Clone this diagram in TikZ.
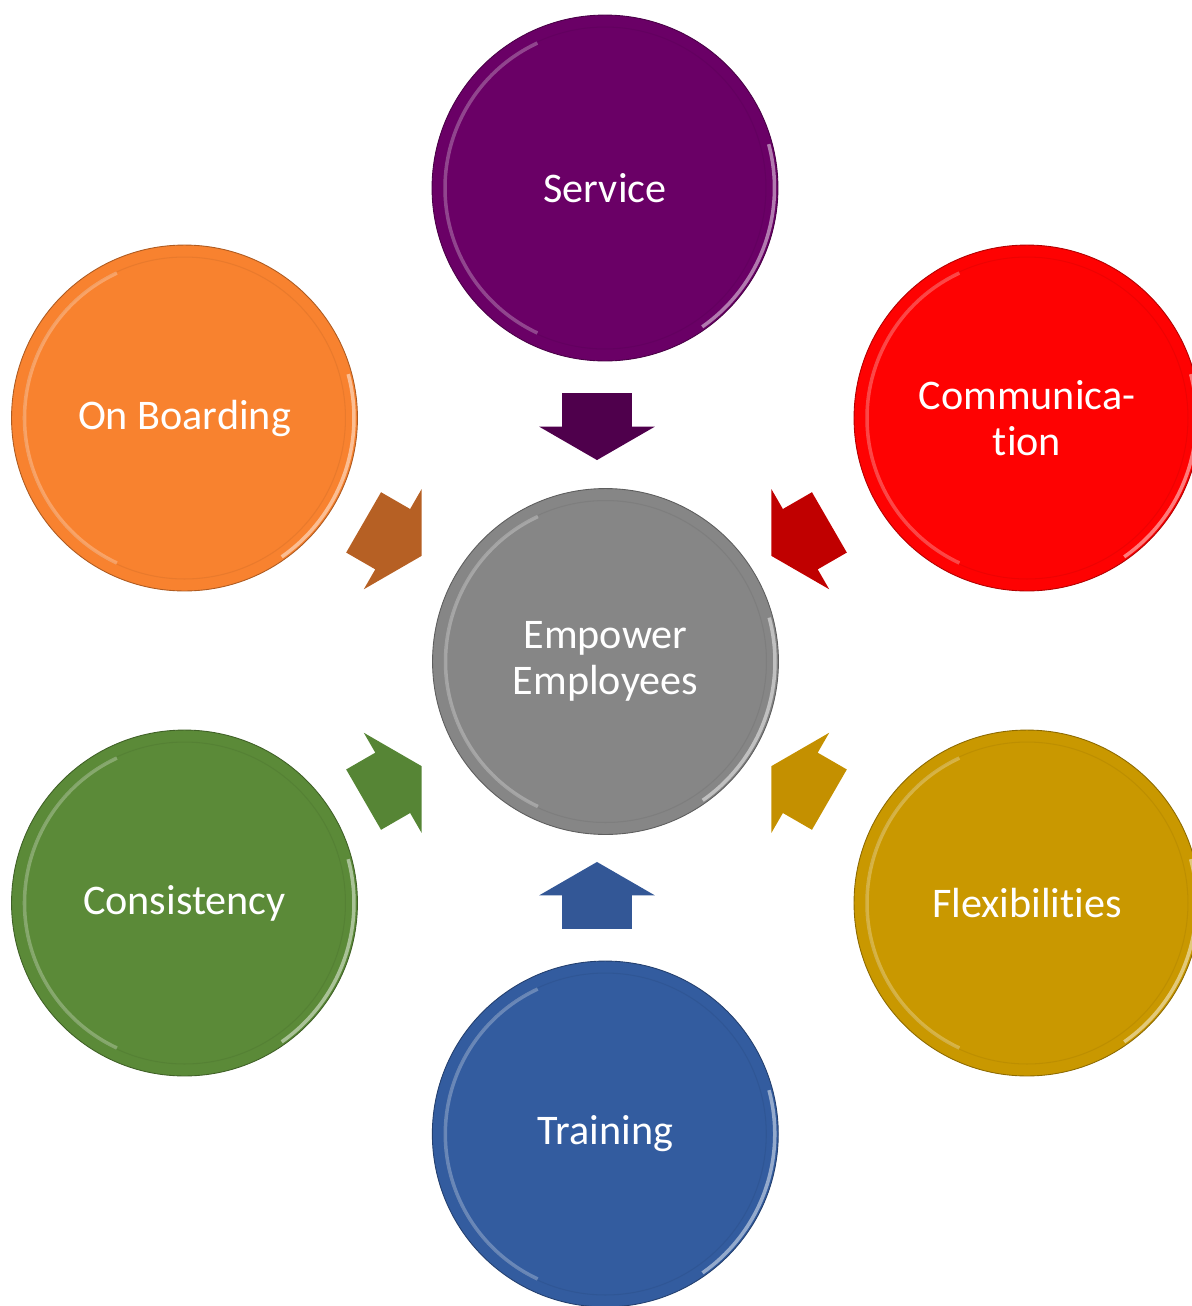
\documentclass[tikz,border=0pt]{standalone}
\usepackage{fontspec}
\setmainfont{Carlito}[Ligatures=NoCommon]
\usetikzlibrary{shapes.arrows}

\definecolor{hubgray}{HTML}{868686}
\definecolor{servicepurple}{HTML}{6A0066}
\definecolor{onboardorange}{HTML}{F8822F}
\definecolor{commred}{HTML}{FE0202}
\definecolor{consistgreen}{HTML}{5B8A38}
\definecolor{flexgold}{HTML}{C99800}
\definecolor{trainblue}{HTML}{335C9F}
\definecolor{servicearrow}{HTML}{4F004C}
\definecolor{onboardarrow}{HTML}{B66024}
\definecolor{commarrow}{HTML}{C00000}
\definecolor{consistarrow}{HTML}{568535}
\definecolor{flexarrow}{HTML}{C49000}
\definecolor{trainarrow}{HTML}{335796}

\begin{document}
\begin{tikzpicture}[
            x=0.02cm, y=-0.02cm,
            bubble/.style={circle, fill=#1, draw=#1!70!black, line width=0.5pt, minimum size=6.92cm, inner sep=0pt, text=white, align=center, font=\fontsize{24}{26}\selectfont},
            pointer/.style={single arrow, fill=#1, draw=none, minimum height=1.34cm, inner sep=0pt, inner ysep=0.69cm, single arrow head extend=0.46cm, single arrow tip angle=120, anchor=tail}
        ]
            \useasboundingbox (0,0) rectangle (1192,1306);

            \node[bubble=hubgray] (hub) at (605.5,661.5) {Empower\\Employees};
            \node[bubble=servicepurple] (service) at (605,188) {Service};
            \node[bubble=onboardorange] (onboard) at (184.5,418) {On Boarding};
            \node[bubble=commred] (comm) at (1027,418) {Communica-\\tion};
            \node[bubble=consistgreen] (consist) at (184.5,903) {Consistency};
            \node[bubble=flexgold] (flex) at (1027,903) {Flexibilities};
            \node[bubble=trainblue] (train) at (605.3,1134) {Training};

            % bevel highlights
            \foreach \n/\c in {hub/hubgray, service/servicepurple, onboard/onboardorange, comm/commred, consist/consistgreen, flex/flexgold, train/trainblue} {
                \draw[\c!85!black, line width=0.6pt, opacity=.4] (\n.center) circle[radius=3.22cm];
                \draw[\c!40!white, line width=2pt, opacity=.45] (\n.center) ++(115:3.2cm) arc[start angle=115, end angle=245, radius=3.2cm];
                \draw[\c!40!white, line width=2pt, opacity=.8] (\n.center) ++(-55:3.39cm) arc[start angle=-55, end angle=15, radius=3.39cm];
            }

            \node[pointer=servicearrow, rotate=-90] (aservice) at (597,392.7) {};
            \node[pointer=onboardarrow, rotate=-30] (aonboard) at (363.3,522.2) {};
            \node[pointer=commarrow, rotate=-150] (acomm) at (829.7,522.2) {};
            \node[pointer=consistarrow, rotate=30] (aconsist) at (363.3,799.8) {};
            \node[pointer=flexarrow, rotate=150] (aflex) at (829.7,799.8) {};
            \node[pointer=trainarrow, rotate=90] (atrain) at (597,929.3) {};
        \end{tikzpicture}
\end{document}
